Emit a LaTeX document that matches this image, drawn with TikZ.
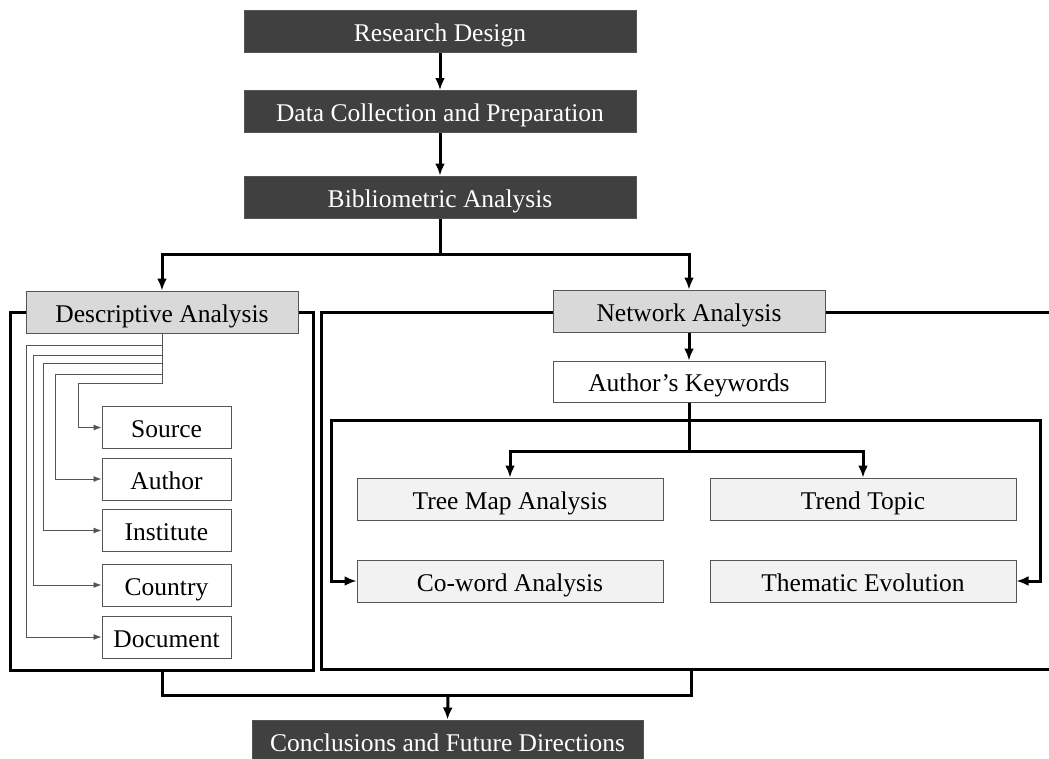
\documentclass[tikz,border=0pt]{standalone}
\usepackage{fontspec}
\setmainfont{Liberation Serif}
\usetikzlibrary{arrows.meta}
\definecolor{boxdark}{HTML}{404040}
\definecolor{boxmid}{HTML}{D9D9D9}
\definecolor{boxlight}{HTML}{F2F2F2}
\definecolor{thinline}{HTML}{555555}
\begin{document}
\begin{tikzpicture}[x=1pt,y=-1pt,
  font=\fontsize{25.5}{30}\selectfont,
  base/.style={draw=thinline, line width=1pt, inner sep=0pt, anchor=center,
    text height=20pt, text depth=0pt},
  darkbox/.style={base, fill=boxdark, text=white, minimum width=392pt, minimum height=42pt},
  midbox/.style={base, fill=boxmid, minimum width=272pt, minimum height=42pt},
  keybox/.style={base, fill=white, minimum width=272pt, minimum height=41pt},
  itembox/.style={base, fill=white, minimum width=129pt, minimum height=42pt},
  topicbox/.style={base, fill=boxlight, minimum width=306pt, minimum height=42pt},
  thick link/.style={line width=3pt, -{Latex[length=12pt,width=10pt]}},
  frame/.style={line width=3pt},
  thin link/.style={line width=0.9pt, draw=thinline, -{Latex[length=8pt,width=6pt]}}
]
\clip (0,0) rectangle (1049,758);
\fill[white] (0,0) rectangle (1049,758);

% group frames (drawn first, so the header boxes sit on top of them)
\draw[frame] (10,312) rectangle (313,670);
\draw[frame] (1070,312) -- (321,312) -- (321,669) -- (1070,669);

% main pipeline
\node[darkbox] (rd) at (440,31) {Research Design};
\node[darkbox] (dc) at (440,111.5) {Data Collection and Preparation};
\node[darkbox] (ba) at (440,197) {Bibliometric Analysis};

% descriptive branch
\node[midbox] (desc) at (162,312) {Descriptive Analysis};
\node[itembox] (src) at (166.5,427.5) {Source};
\node[itembox] (aut) at (166.5,479) {Author};
\node[itembox] (ins) at (166.5,530.5) {Institute};
\node[itembox] (cty) at (166.5,585) {Country};
\node[itembox] (doc) at (166.5,637) {Document};

% network branch
\node[midbox] (net) at (689,311) {Network Analysis};
\node[keybox] (kw) at (689,381.5) {Author’s Keywords};
\node[topicbox] (tree) at (510,499) {Tree Map Analysis};
\node[topicbox] (trend) at (863,499) {Trend Topic};
\node[topicbox] (cow) at (510,581) {Co-word Analysis};
\node[topicbox] (them) at (863,581) {Thematic Evolution};

% conclusion
\node[darkbox, minimum width=391pt] (conc) at (447.5,741) {Conclusions and Future Directions};

% pipeline connectors
\draw[thick link] (rd) -- (dc);
\draw[thick link] (dc) -- (ba);
\coordinate (split) at (440,254);
\draw[frame] (ba.south) -- (split);
\draw[thick link] (split) -| (desc.north);
\draw[thick link] (split) -| (net.north);

% descriptive items
\draw[thin link] (desc.south) |- (78,383) |- (src.west);
\draw[thin link] (desc.south) |- (55,374) |- (aut.west);
\draw[thin link] (desc.south) |- (43,363) |- (ins.west);
\draw[thin link] (desc.south) |- (33,355) |- (cty.west);
\draw[thin link] (desc.south) |- (26,345) |- (doc.west);

% network items
\draw[thick link] (net) -- (kw);
\coordinate (kwsplit) at (689,451);
\draw[frame] (kw.south) -- (kwsplit);
\draw[thick link] (kwsplit) -| (tree.north);
\draw[thick link] (kwsplit) -| (trend.north);
\coordinate (nl) at (331,420);
\coordinate (nr) at (1040,420);
\draw[line width=3pt, {Latex[length=12pt,width=10pt]}-{Latex[length=12pt,width=10pt]}]
  (cow.west) -| (nl) -- (nr) |- (them.east);

% merge into the conclusion
\coordinate (dl) at (162,670);
\coordinate (nb) at (691,669);
\coordinate (merge) at (448,695);
\draw[frame] (dl) -- (162,695) -- (691,695) -- (nb);
\draw[thick link] (merge) -- (conc.north);
\end{tikzpicture}
\end{document}
